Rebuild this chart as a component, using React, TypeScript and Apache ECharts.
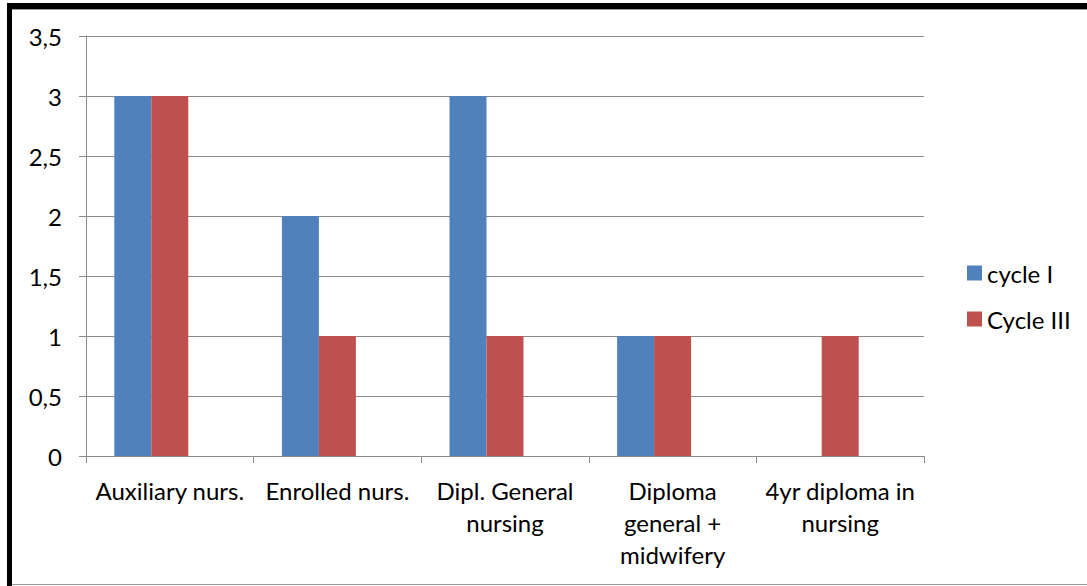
import React, { useEffect, useRef } from "react";
import * as echarts from "echarts";

const categories = [
  "Auxiliary nurs.",
  "Enrolled nurs.",
  "Dipl. General\nnursing",
  "Diploma\ngeneral +\nmidwifery",
  "4yr diploma in\nnursing",
];
const cycleI = [3, 2, 3, 1, null];
const cycleIII = [3, 1, 1, 1, 1];
const emptySlot = [null, null, null, null, null];
const yTicks = [0, 0.5, 1, 1.5, 2, 2.5, 3, 3.5];

const FONT = "Lato, 'Open Sans', sans-serif";
const GRAY = "#8a8a8a";
const FS = 24;

export default function App() {
  const ref = useRef<HTMLDivElement>(null);
  useEffect(() => {
    document.body.style.margin = "0";
    const chart = echarts.init(ref.current!, null, { renderer: "svg" });
    chart.setOption({
      animation: false,
      backgroundColor: "#ffffff",
      textStyle: { fontFamily: FONT },
      grid: { left: 86, right: 163, top: 36, bottom: 130, containLabel: false },
      legend: {
        data: ["cycle I", "Cycle III"],
        orient: "vertical",
        left: 962,
        top: 256,
        padding: 5,
        itemWidth: 15,
        itemHeight: 15,
        itemGap: 22,
        icon: "rect",
        textStyle: { fontSize: FS, color: "#000", fontFamily: FONT },
      },
      xAxis: {
        type: "category",
        data: categories,
        axisLine: { lineStyle: { color: GRAY, width: 1 } },
        axisTick: { show: true, length: 7, alignWithLabel: false, lineStyle: { color: GRAY } },
        axisLabel: {
          interval: 0,
          color: "#000",
          fontSize: FS,
          fontFamily: FONT,
          lineHeight: 32,
          margin: 18,
        },
      },
      yAxis: {
        type: "value",
        min: 0,
        max: yTicks[yTicks.length - 1],
        interval: 0.5,
        axisLine: { show: true, lineStyle: { color: GRAY } },
        axisTick: { show: true, inside: false, length: 7, lineStyle: { color: GRAY } },
        splitLine: { lineStyle: { color: GRAY, width: 1 } },
        axisLabel: {
          color: "#000",
          fontSize: FS,
          fontFamily: FONT,
          margin: 24,
          formatter: (v: number) => String(v).replace(".", ","),
        },
      },
      series: [
        {
          name: "cycle I",
          type: "bar",
          data: cycleI,
          itemStyle: { color: "#4F81BD" },
          barGap: "0%",
          barCategoryGap: "33.8%",
        },
        {
          name: "Cycle III",
          type: "bar",
          data: cycleIII,
          itemStyle: { color: "#C0504D" },
        },
        {
          name: "",
          type: "bar",
          data: emptySlot,
          itemStyle: { color: "#9BBB59" },
        },
      ],
      graphic: [
        { type: "rect", shape: { x: 7, y: 3, width: 1080, height: 6 }, style: { fill: "#000" } },
        { type: "rect", shape: { x: 7, y: 3, width: 5, height: 583 }, style: { fill: "#000" } },
        { type: "rect", shape: { x: 12, y: 9, width: 1075, height: 1 }, style: { fill: "#999" } },
        { type: "rect", shape: { x: 12, y: 584, width: 1075, height: 1 }, style: { fill: "#999" } },
      ],
    });
    return () => chart.dispose();
  }, []);
  return <div ref={ref} style={{ width: 1087, height: 586 }} />;
}
